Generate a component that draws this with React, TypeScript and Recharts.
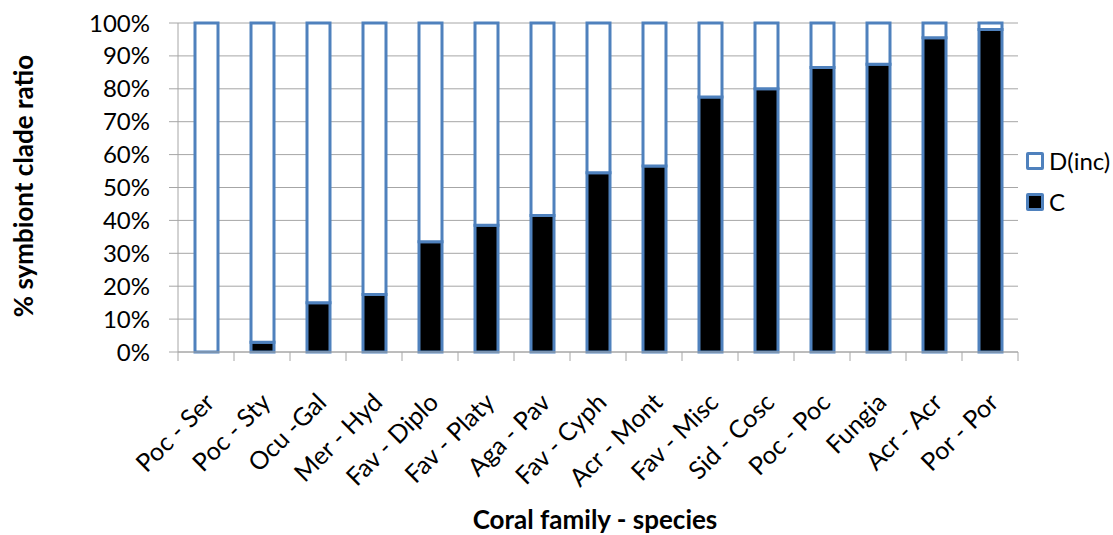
import { Bar, BarChart, CartesianGrid, XAxis, YAxis } from "recharts";

const categories = [
    "Poc - Ser",
    "Poc - Sty",
    "Ocu -Gal",
    "Mer - Hyd",
    "Fav - Diplo",
    "Fav - Platy",
    "Aga - Pav",
    "Fav - Cyph",
    "Acr - Mont",
    "Fav - Misc",
    "Sid - Cosc",
    "Poc - Poc",
    "Fungia",
    "Acr - Acr",
    "Por - Por"
];

// % of clade C per coral group, clade D (incl. mixed) makes up the rest
const cladeC = [0, 3, 15, 17.5, 33.5, 38.5, 41.5, 54.5, 56.5, 77.5, 80, 86.5, 87.5, 95.5, 98];
const cladeD = [100, 97, 85, 82.5, 66.5, 61.5, 58.5, 45.5, 43.5, 22.5, 20, 13.5, 12.5, 4.5, 2];

const yTicks = [0, 0.1, 0.2, 0.3, 0.4, 0.5, 0.6, 0.7, 0.8, 0.9, 1];

const legendItems = [
    { name: "D(inc)", fill: "#FFFFFF" },
    { name: "C", fill: "#000000" }
];

const data = categories.map((name, i) => ({ name, C: cladeC[i], D: cladeD[i] }));

const BLUE = "#4F81BD";
const GRID = "#A6A6A6";
const FONT = "Lato, 'Noto Sans', sans-serif";

// label rotated 45°, plus tick marks on the category boundaries (not centres)
function CategoryTick(props: any) {
    const { x, y, payload, index } = props;
    const half = payload.offset ?? 0;
    const last = index === categories.length - 1;
    const lx = x + 10;
    const ly = y + 52;
    return (
        <g>
            <line x1={x - half} y1={y} x2={x - half} y2={y + 9} stroke={GRID} />
            {last && <line x1={x + half} y1={y} x2={x + half} y2={y + 9} stroke={GRID} />}
            <text
                x={lx}
                y={ly}
                transform={`rotate(-45, ${lx}, ${ly})`}
                textAnchor="end"
                fontSize={25}
                fontFamily={FONT}
                fill="#000"
            >
                {payload.value}
            </text>
        </g>
    );
}

export default function App() {
    return (
        <div style={{ position: "absolute", left: 0, top: 0, width: 1113, height: 535, background: "#fff" }}>
            <BarChart
                width={1113}
                height={535}
                data={data}
                stackOffset="expand"
                margin={{ top: 23, right: 95, bottom: 0, left: 0 }}
            >
                <CartesianGrid vertical={false} stroke={GRID} />
                <XAxis
                    dataKey="name"
                    interval={0}
                    height={183}
                    tickLine={false}
                    tickSize={0}
                    tickMargin={0}
                    axisLine={{ stroke: GRID }}
                    tick={<CategoryTick />}
                />
                <YAxis
                    width={178}
                    domain={[0, 1]}
                    ticks={yTicks}
                    interval={0}
                    tickSize={9}
                    tickMargin={19}
                    tickFormatter={(v: number) => `${Math.round(v * 100)}%`}
                    tick={{ fill: "#000", fontSize: 24, fontFamily: FONT }}
                    axisLine={{ stroke: GRID }}
                    tickLine={{ stroke: GRID }}
                />
                <Bar
                    dataKey="C"
                    stackId="clade"
                    fill="#000000"
                    stroke={BLUE}
                    strokeWidth={3}
                    barSize={23}
                    isAnimationActive={false}
                />
                <Bar
                    dataKey="D"
                    stackId="clade"
                    fill="#FFFFFF"
                    stroke={BLUE}
                    strokeWidth={3}
                    barSize={23}
                    isAnimationActive={false}
                />
            </BarChart>

            <svg
                width={1113}
                height={535}
                style={{ position: "absolute", left: 0, top: 0, pointerEvents: "none" }}
            >
                <text
                    x={33}
                    y={186}
                    transform="rotate(-90, 33, 186)"
                    textAnchor="middle"
                    fontSize={26}
                    fontWeight="bold"
                    fontFamily={FONT}
                    fill="#000"
                >
                    % symbiont clade ratio
                </text>
                <text
                    x={595}
                    y={529}
                    textAnchor="middle"
                    fontSize={26}
                    fontWeight="bold"
                    fontFamily={FONT}
                    fill="#000"
                >
                    Coral family - species
                </text>
            </svg>

            <div style={{ position: "absolute", left: 1026, top: 150, fontFamily: FONT }}>
                {legendItems.map((item) => (
                    <div
                        key={item.name}
                        style={{ display: "flex", alignItems: "center", height: 22, marginBottom: 19 }}
                    >
                        <span
                            style={{
                                display: "inline-block",
                                width: 12,
                                height: 12,
                                border: `3px solid ${BLUE}`,
                                borderRadius: 2,
                                background: item.fill,
                                marginRight: 5
                            }}
                        />
                        <span style={{ fontSize: 24, color: "#000", lineHeight: "22px" }}>{item.name}</span>
                    </div>
                ))}
            </div>
        </div>
    );
}
